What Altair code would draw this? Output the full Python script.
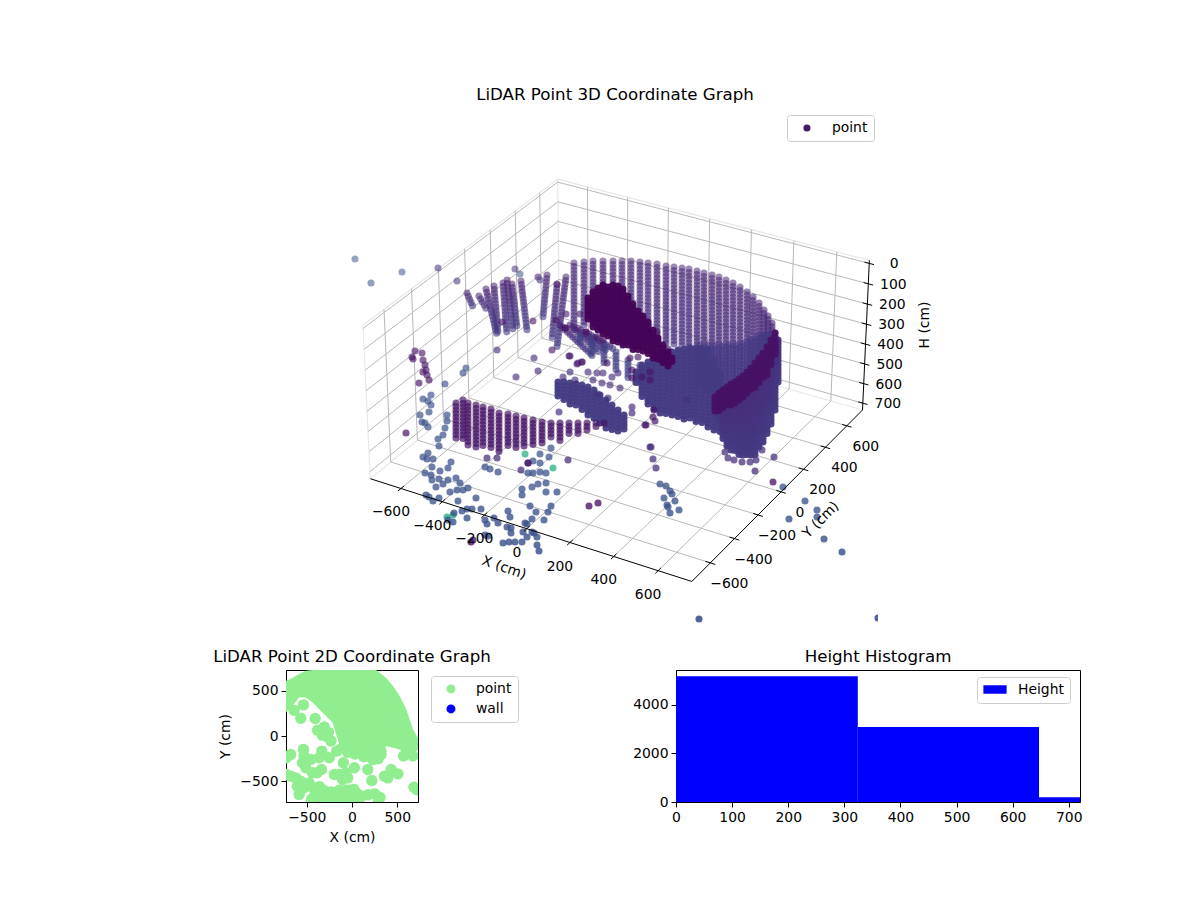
import altair as alt
import numpy as np
import pandas as pd

FONT = "DejaVu Sans"

# 3D frame: ticks in cm, limits of the box
x_ticks = [-600, -400, -200, 0, 200, 400, 600]
y_ticks = [-600, -400, -200, 0, 200, 400, 600]
h_ticks = [0, 100, 200, 300, 400, 500, 600, 700]
x_tick_labels = ["−600", "−400", "−200", "0", "200", "400", "600"]
y_tick_labels = ["−600", "−400", "−200", "0", "200", "400", "600"]
h_tick_labels = ["0", "100", "200", "300", "400", "500", "600", "700"]
xy_limit = 750
h_limits = [-15, 735]

# far wall in view units: one column per scan angle
wall_u = [574, 584, 593, 603, 613, 622, 631, 640, 648, 657, 666, 674, 682, 689, 697, 704, 712, 719, 726, 733, 740, 747, 753, 759, 764, 768, 772, 775]
wall_top = [263, 262, 261, 261, 261, 261, 261, 262, 263, 264, 266, 267, 268, 269, 271, 273, 275, 277, 280, 283, 287, 292, 297, 303, 310, 316, 323, 333]
wall_bottom = [330, 327, 318, 330, 335, 335, 335, 333, 335, 342, 345, 345, 346, 350, 380, 385, 395, 395, 390, 385, 380, 375, 365, 360, 350, 345, 340, 336]

inner_u = [700, 708, 715, 722, 729, 736, 743, 750, 756, 761, 766, 770]
inner_top = [345, 345, 346, 346, 345, 345, 343, 340, 338, 335, 335, 335]
inner_bottom = [385, 392, 395, 392, 388, 382, 378, 370, 362, 355, 348, 342]

# near wall
front_u = [456, 463, 468, 476, 483, 491, 499, 508, 516, 524, 533, 542, 551, 560, 569, 578, 587, 596, 604]
front_top = [403, 400, 403, 405, 407, 409, 413, 414, 416, 418, 420, 422, 423, 423, 423, 423, 423, 423, 423]
front_bottom = [438, 440, 445, 447, 448, 450, 452, 447, 450, 447, 447, 445, 437, 442, 435, 435, 433, 428, 425]

# left leaning columns: top u, top v, bottom u, bottom v
lean_top_u = [467, 479, 486, 494, 503, 507, 512, 521, 538, 547, 557, 566, 560, 570, 578, 586]
lean_top_v = [293, 296, 289, 286, 283, 280, 284, 281, 277, 275, 285, 277, 325, 325, 328, 332]
lean_bottom_u = [473, 487, 497, 498, 507, 513, 517, 527, 540, 543, 552, 557, 592, 600, 608, 615]
lean_bottom_v = [307, 310, 335, 333, 335, 330, 327, 330, 280, 317, 340, 347, 355, 353, 352, 350]

ring_steps = list(range(0, 45))

# dense parts of the cloud: column u, upper edge, lower edge
dark_u = [588, 593, 598, 603, 608, 613, 618, 623, 628, 633, 638, 643, 648, 653, 658, 663, 668, 672]
dark_top = [298, 292, 288, 285, 287, 285, 286, 289, 296, 304, 311, 316, 322, 330, 338, 345, 352, 358]
dark_bottom = [322, 328, 332, 335, 338, 341, 343, 346, 348, 350, 352, 354, 356, 358, 361, 365, 367, 364]

under_u = [580, 592, 604, 616, 628, 640]
under_top = [335, 338, 345, 352, 360, 365]
under_bottom = [345, 356, 365, 372, 380, 385]

bowl_u = [636, 642, 648, 654, 660, 666, 672, 678, 684, 690, 696, 702, 708, 714, 720]
bowl_top = [372, 365, 362, 360, 357, 354, 352, 350, 349, 348, 348, 349, 350, 360, 372]
bowl_bottom = [385, 398, 405, 410, 413, 415, 416, 417, 419, 421, 423, 425, 428, 430, 433]

wedge_u = [558, 564, 570, 576, 582, 588, 594, 600, 606, 612, 618, 624]
wedge_top = [382, 382, 383, 384, 385, 387, 390, 395, 400, 405, 410, 415]
wedge_bottom = [397, 401, 405, 408, 412, 417, 421, 425, 428, 431, 433, 431]

curtain_u = [715, 719, 723, 727, 731, 735, 739, 743, 747, 751, 755, 759, 763, 767, 771, 775, 778]
curtain_top = [405, 402, 400, 397, 394, 391, 388, 385, 381, 378, 374, 370, 365, 360, 354, 347, 340]
curtain_bottom = [412, 422, 440, 448, 450, 453, 455, 456, 457, 457, 456, 450, 444, 436, 425, 410, 385]

band_u = [715, 719, 723, 727, 731, 735, 739, 743, 747, 751, 755, 759, 763, 767, 771, 775]
band_top = [397, 393, 390, 387, 384, 382, 379, 376, 372, 368, 363, 358, 353, 347, 340, 333]
band_bottom = [412, 411, 409, 407, 406, 405, 402, 400, 396, 392, 388, 385, 380, 375, 367, 355]

# single returns in view units, by colour group
sparse_blue = [
    (355, 259), (371, 283), (402, 272), (520, 274), (431, 395), (423, 399), (428, 401), (431, 405), (429, 412),
    (420, 415), (422, 422), (425, 423), (428, 427), (447, 415), (447, 421), (445, 428), (443, 435), (438, 439),
    (439, 446), (423, 457), (428, 453), (427, 459), (433, 459), (451, 462), (448, 468), (432, 467), (440, 471),
    (425, 473), (431, 475), (432, 480), (439, 479), (436, 487), (443, 484), (448, 480), (456, 478), (460, 483),
    (450, 492), (457, 490), (463, 490), (468, 488), (426, 495), (429, 497), (433, 501), (439, 498), (458, 501),
    (476, 498), (462, 511), (467, 509), (481, 509), (472, 509), (454, 513), (448, 520), (453, 522), (467, 518),
    (494, 518), (485, 520), (487, 524), (498, 523), (508, 511), (510, 517), (530, 506), (488, 536), (485, 535),
    (507, 527), (511, 528), (511, 533), (523, 532), (532, 532), (534, 533), (537, 537), (503, 543), (509, 542),
    (515, 542), (522, 542), (527, 537), (537, 545), (539, 551), (525, 523), (527, 524), (532, 519), (536, 512),
    (544, 520), (548, 512), (551, 506), (485, 467), (490, 469), (498, 472), (528, 473), (533, 473), (533, 461),
    (540, 463), (540, 472), (546, 473), (540, 454), (551, 448), (549, 457), (532, 487), (538, 484), (546, 483),
    (522, 489), (522, 495), (546, 492), (557, 492), (660, 484), (666, 486), (670, 491), (672, 494), (664, 498),
    (675, 501), (667, 505), (668, 507), (679, 510), (670, 513), (783, 487), (805, 501), (817, 510), (817, 517),
    (789, 519), (824, 539), (842, 552), (699, 619), (878, 618), (445, 384), (463, 373), (466, 368),
]
sparse_violet = [
    (438, 268), (515, 269), (497, 350), (516, 377), (534, 358), (538, 371), (651, 447), (653, 459), (656, 468),
    (774, 457), (755, 471), (487, 458), (497, 458), (528, 463), (521, 470), (568, 460), (559, 412), (645, 425),
    (650, 447), (570, 372), (588, 372), (597, 373), (603, 373), (593, 380), (602, 383), (610, 385), (620, 388),
    (575, 380), (563, 377), (598, 394), (608, 398), (632, 407), (632, 413), (457, 281), (578, 363), (582, 362),
    (569, 356), (473, 540), (612, 377), (618, 373), (687, 400), (728, 458), (734, 460), (742, 462), (750, 462),
    (756, 460), (725, 452), (762, 450),
]
sparse_dark = [
    (412, 357), (415, 351), (413, 359), (422, 353), (423, 360), (425, 365), (426, 370), (427, 375), (429, 380),
    (419, 383), (423, 372), (406, 433), (589, 506), (598, 503), (502, 322), (533, 321), (552, 350), (556, 320),
    (557, 284), (566, 328), (566, 314), (773, 482), (646, 425), (654, 410), (653, 417), (655, 421), (570, 356),
    (577, 364), (582, 362), (632, 370), (632, 378), (642, 377), (650, 372), (650, 380), (607, 363), (630, 358),
    (638, 357), (668, 349), (657, 332), (652, 333), (580, 314), (565, 328), (586, 332), (597, 337), (603, 340),
    (471, 542), (528, 463),
]
sparse_teal = [(525, 454), (553, 468), (453, 515), (447, 517)]

# top view, in cm: solid body and the separate discs
body_x = [-733, -659, -585, -511, -437, -363, -289, -215, -141, -30, 81, 193, 267, 322, 378, 452, 526, 600, 674, 730]
body_top = [611, 641, 685, 722, 730, 730, 730, 730, 730, 730, 730, 730, 730, 685, 641, 556, 444, 296, 74, -19]
body_bottom = [259, 333, 426, 426, 370, 296, 222, 148, -93, -222, -241, -296, -315, -222, -111, -130, -148, -204, -222, -148]
south_x = [-511, -437, -363, -307, -233, -141, -30, 44, 119, 230, 322]
south_top = [-682, -593, -500, -537, -574, -556, -537, -537, -611, -593, -630]
south_bottom = [-733, -733, -733, -733, -733, -733, -733, -733, -733, -660, -640]
disc_x = [-641, -537, -567, -407, -381, -307, -289, -233, -678, -726, -537, -530, -548, -511, -456, -363, -333, -252,
          -170, -96, -385, -337, -437, -141, -196, -67, 26, -48, -104, 174, 219, 396, 433, 507, 359, 570, 674, 685, 719,
          267, 322, -678, -622, -567, -530, -585, -474, -726, -604,
          -420, -360, -300, -230, -140, -60, 20, 90, 180, 250, 310, 290,
          -340, -330, -260, -120, -50, 30, 130, 230, 290, 320]
disc_y = [285, 344, 196, 193, 63, 100, 0, -56, -204, -241, -148, -222, -296, -352, -259, -241, -167, -241,
          -167, -296, -407, -370, -407, -426, -426, -407, -352, -463, -481, -370, -493, -463, -370, -419, -444, -222, -222, -567, -593,
          -222, -204, -444, -463, -500, -574, -648, -519, -426, -556,
          -580, -560, -620, -620, -600, -600, -590, -660, -650, -640, -680, -740,
          60, 10, 40, -140, -180, -200, -230, -260, -250, -170]

# height histogram
hist_left = [0, 324, 647]
hist_right = [324, 647, 970]
hist_count = [5190, 3090, 200]
hist_base = [0, 0, 0]


def project(x, y, h):
    # same perspective as a default 3D axes, z squeezed to fit the picture
    box = np.array([1.19, 1.19, 0.57])
    p = np.array([
        (x + xy_limit) / (2 * xy_limit) * box[0],
        (y + xy_limit) / (2 * xy_limit) * box[1],
        (h_limits[1] - h) / (h_limits[1] - h_limits[0]) * box[2],
    ])
    d = p - box / 2
    u_axis = np.array([0.866, 0.5, 0.0])
    v_axis = np.array([-0.25, 0.433, 0.866])
    w_axis = np.array([0.433, -0.75, 0.5])
    depth = 10 - d @ w_axis
    return 621 + 3070 * (d @ u_axis) / depth, 369 - 3070 * (d @ v_axis) / depth


def segment(a, b):
    u, v = project(*a)
    u2, v2 = project(*b)
    return {"u": u, "v": v, "u2": u2, "v2": v2}


def columns(top_u, top_v, bottom_u, bottom_v, h_top, h_bottom):
    rows = []
    for tu, tv, bu, bv in zip(top_u, top_v, bottom_u, bottom_v):
        length = np.hypot(bu - tu, bv - tv)
        for step in ring_steps:
            along = step * 3.5
            if along > length:
                break
            f = along / max(length, 1)
            rows.append({"u": tu + (bu - tu) * f, "v": tv + (bv - tv) * f, "h": h_top + (h_bottom - h_top) * f})
    return rows


def sparse(pairs, h):
    return [{"u": a, "v": b, "h": h} for a, b in pairs]


L = xy_limit
lo, hi = h_limits
grid = []
for t in x_ticks:
    grid.append(segment((t, -L, hi), (t, L, hi)))
    grid.append(segment((t, L, hi), (t, L, lo)))
for t in y_ticks:
    grid.append(segment((-L, t, hi), (L, t, hi)))
    grid.append(segment((-L, t, hi), (-L, t, lo)))
for t in h_ticks:
    grid.append(segment((-L, -L, t), (-L, L, t)))
    grid.append(segment((-L, L, t), (L, L, t)))

pane_edges = [
    segment((-L, -L, lo), (-L, L, lo)),
    segment((-L, L, lo), (L, L, lo)),
    segment((-L, L, lo), (-L, L, hi)),
    segment((-L, -L, lo), (-L, -L, hi)),
    segment((-L, L, hi), (-L, -L, hi)),
    segment((-L, L, hi), (L, L, hi)),
]
axis_lines = [
    segment((-L, -L, hi), (L, -L, hi)),
    segment((L, -L, hi), (L, L, hi)),
    segment((L, L, hi), (L, L, lo)),
]
axis_lines += [segment((t, -L + 22, hi), (t, -L - 22, hi)) for t in x_ticks]
axis_lines += [segment((L - 22, t, hi), (L + 22, t, hi)) for t in y_ticks]
axis_lines += [segment((L - 22, L, t), (L + 22, L, t)) for t in h_ticks]


def pane(name, corners, shade):
    # one filled quadrilateral as an area: upper and lower edge over u
    pts = [project(*c) for c in corners]
    us = sorted(p[0] for p in pts)
    ring = pts + [pts[0]]
    rows = []
    for u in us:
        vs = []
        for (a, b), (c, d) in zip(ring[:-1], ring[1:]):
            if min(a, c) - 1e-6 <= u <= max(a, c) + 1e-6 and a != c:
                vs.append(b + (d - b) * (u - a) / (c - a))
        rows.append({"pane": name, "u": u, "v": min(vs), "v2": max(vs), "shade": shade})
    return rows


panes = (
    pane("left", [(-L, -L, hi), (-L, L, hi), (-L, L, lo), (-L, -L, lo)], "#f9f9f9")
    + pane("back", [(-L, L, hi), (L, L, hi), (L, L, lo), (-L, L, lo)], "#f2f2f2")
    + pane("floor", [(-L, -L, hi), (L, -L, hi), (L, L, hi), (-L, L, hi)], "#f5f5f5")
)

u_scale = alt.Scale(domain=[286, 878], nice=False, zero=False)
v_scale = alt.Scale(domain=[634, 108], nice=False, zero=False)
U = alt.X("u:Q", scale=u_scale, axis=None)
V = alt.Y("v:Q", scale=v_scale, axis=None)
tone = alt.Fill("h:Q", scale=alt.Scale(scheme="viridis", domain=[0, 1000]), legend=None)
fade = alt.Opacity("v:Q", scale=alt.Scale(domain=[180, 620], range=[0.45, 0.9]), legend=None)


def dots(rows):
    return alt.Chart(pd.DataFrame(rows)).mark_circle(size=50, clip=True).encode(x=U, y=V, fill=tone, opacity=fade)


def mass(rows):
    # overlapping returns that read as a solid shape
    return alt.Chart(pd.DataFrame(rows)).mark_circle(size=50, clip=True, opacity=0.95).encode(x=U, y=V, fill=tone)


def rules(rows, color, width):
    return (
        alt.Chart(pd.DataFrame(rows))
        .mark_rule(color=color, strokeWidth=width)
        .encode(x=U, y=V, x2="u2:Q", y2="v2:Q")
    )


def tick_text(labels, positions, dx, dy):
    rows = [{"label": s, "u": p[0], "v": p[1]} for s, p in zip(labels, positions)]
    return (
        alt.Chart(pd.DataFrame(rows))
        .mark_text(font=FONT, fontSize=13.9, color="black", dx=dx, dy=dy, align="center", baseline="middle")
        .encode(x=U, y=V, text="label:N")
    )


def axis_title(text, pos, angle):
    return (
        alt.Chart(pd.DataFrame({"label": [text], "u": [pos[0]], "v": [pos[1]]}))
        .mark_text(font=FONT, fontSize=13.9, color="black", angle=angle, align="center", baseline="middle")
        .encode(x=U, y=V, text="label:N")
    )


def legend_style(x, y, **extra):
    return alt.Legend(
        title=None, orient="none", legendX=x, legendY=y, fillColor="white", strokeColor="#cccccc", cornerRadius=3,
        padding=6, labelFont=FONT, labelFontSize=13.9, labelColor="black", symbolStrokeWidth=0, **extra,
    )


pane_layer = (
    alt.Chart(pd.DataFrame(panes))
    .mark_area(orient="vertical")
    .encode(x=U, y=V, y2="v2:Q", fill=alt.Fill("shade:N", scale=None), detail="pane:N")
)

legend_point = (
    alt.Chart(pd.DataFrame({"series": ["point"], "u": [805], "v": [127]}))
    .mark_circle(size=50)
    .encode(
        x=U,
        y=V,
        color=alt.Color(
            "series:N",
            scale=alt.Scale(domain=["point"], range=["#46166b"]),
            legend=legend_style(501, 7, symbolSize=50, symbolOpacity=1, symbolOffset=7, labelOffset=18),
        ),
    )
)

cloud = alt.layer(
    pane_layer,
    rules(pane_edges, "#e8e8e8", 1.2),
    rules(grid, "#b8b8b8", 1),
    dots(columns(wall_u, wall_top, wall_u, wall_bottom, 100, 140)),
    dots(columns(inner_u, inner_top, inner_u, inner_bottom, 165, 165)),
    dots(columns(lean_top_u, lean_top_v, lean_bottom_u, lean_bottom_v, 90, 170)),
    dots(columns(under_u, under_top, under_u, under_bottom, 190, 190)),
    mass(columns(bowl_u, bowl_top, bowl_u, bowl_bottom, 170, 170)),
    mass(columns(wedge_u, wedge_top, wedge_u, wedge_bottom, 175, 175)),
    dots(columns(front_u, front_top, front_u, front_bottom, 45, 60)),
    dots(sparse(sparse_teal, 620)),
    dots(sparse(sparse_blue, 250)),
    dots(sparse(sparse_violet, 130)),
    dots(sparse(sparse_dark, 50)),
    mass(columns(curtain_u, curtain_top, curtain_u, curtain_bottom, 120, 165)),
    mass(columns(band_u, band_top, band_u, band_bottom, 45, 45)),
    mass(columns(dark_u, dark_top, dark_u, dark_bottom, 8, 8)),
    rules(axis_lines, "black", 1),
    tick_text(x_tick_labels, [project(t, -L, hi) for t in x_ticks], -10, 24),
    tick_text(y_tick_labels, [project(L, t, hi) for t in y_ticks], 19, 21),
    tick_text(h_tick_labels, [project(L, L, t) for t in h_ticks], 25, 1),
    axis_title("X (cm)", (504, 568), 19),
    axis_title("Y (cm)", (821, 520), 315),
    axis_title("H (cm)", (925, 325), 270),
    legend_point,
).properties(
    width=592,
    height=526,
    view=alt.ViewConfig(stroke=None),
    title=alt.Title("LiDAR Point 3D Coordinate Graph", dx=33, offset=4),
)

# top view panel
X_cm = alt.X("x:Q", scale=alt.Scale(domain=[-730, 730], nice=False), title="X (cm)", axis=alt.Axis(values=[-500, 0, 500]))
Y_cm = alt.Y("y:Q", scale=alt.Scale(domain=[-730, 730], nice=False), title="Y (cm)", axis=alt.Axis(values=[-500, 0, 500]))


def cm_area(name, xs, top, bottom):
    frame = pd.DataFrame({"x": xs, "y": top, "y2": bottom})
    return (
        alt.Chart(frame, name=name)
        .mark_area(orient="vertical", color="lightgreen", clip=True)
        .encode(x=X_cm, y=Y_cm, y2="y2:Q")
    )


discs = pd.DataFrame({"x": disc_x, "y": disc_y})
discs["series"] = "point"
top_view = alt.layer(
    cm_area("body", body_x, body_top, body_bottom),
    cm_area("south", south_x, south_top, south_bottom),
    alt.Chart(discs)
    .mark_circle(size=130, opacity=1, clip=True)
    .encode(
        x=X_cm,
        y=Y_cm,
        color=alt.Color(
            "series:N",
            scale=alt.Scale(domain=["point", "wall"], range=["lightgreen", "blue"]),
            legend=legend_style(145, 6, symbolSize=80, symbolOffset=7, labelOffset=18, rowPadding=5),
        ),
    ),
).properties(width=132, height=132, title="LiDAR Point 2D Coordinate Graph")

# histogram panel
hist_frame = pd.DataFrame({"left": hist_left, "right": hist_right, "count": hist_count, "base": hist_base, "series": "Height"})
histogram = (
    alt.Chart(hist_frame)
    .mark_rect(clip=True, strokeWidth=0)
    .encode(
        x=alt.X(
            "left:Q", scale=alt.Scale(domain=[0, 720], nice=False), title=None,
            axis=alt.Axis(values=[0, 100, 200, 300, 400, 500, 600, 700]),
        ),
        x2="right:Q",
        y=alt.Y(
            "count:Q", scale=alt.Scale(domain=[0, 5443], nice=False), title=None,
            axis=alt.Axis(values=[0, 2000, 4000], format="d"),
        ),
        y2="base:Q",
        color=alt.Color(
            "series:N",
            scale=alt.Scale(domain=["Height"], range=["blue"]),
            legend=legend_style(301, 7, symbolType="M-1,-0.36H1V0.36H-1Z", symbolSize=540, labelOffset=11, clipHeight=13),
        ),
    )
    .properties(width=404, height=132, title="Height Histogram")
)

bottom = alt.hconcat(top_view, histogram, spacing=258, bounds="flush").resolve_scale(color="independent")
chart = (
    alt.vconcat(cloud, bottom, spacing=36, bounds="flush")
    .resolve_scale(color="independent")
    .properties(padding={"left": 204, "top": 79, "right": 5, "bottom": 5})
    .configure_view(stroke="black", strokeWidth=1)
    .configure_axis(
        grid=False, domainColor="black", tickColor="black", tickSize=5, labelFont=FONT, labelFontSize=13.9,
        labelColor="black", titleFont=FONT, titleFontSize=13.9, titleColor="black", titleFontWeight="normal",
        labelPadding=3, titlePadding=7, labelFlush=False,
    )
    .configure_title(font=FONT, fontSize=16.67, fontWeight="normal", color="black", anchor="middle", offset=4)
)

chart.save("out.html", embed_options={"renderer": "svg", "actions": False})
